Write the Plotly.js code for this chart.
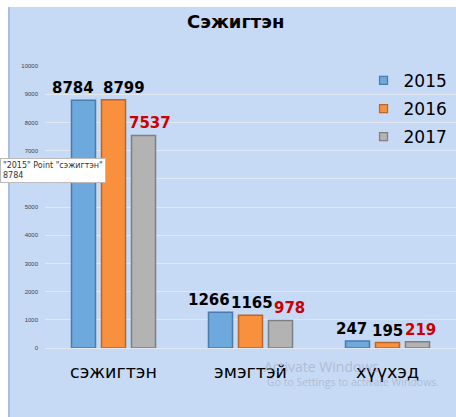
<!DOCTYPE html>
<html>
<head>
<meta charset="utf-8">
<script src="https://cdn.plot.ly/plotly-3.0.1.min.js"></script>
<style>
  html, body { margin: 0; padding: 0; background: #ffffff; }
  #wrap { position: relative; width: 456px; height: 417px; overflow: hidden; }
  #bg { position: absolute; left: 8px; top: 7px; right: 0; bottom: 0; background: #c6d9f5; border-left: 2px solid #a9bfdf; }
  #chart { position: absolute; left: 0; top: 0; width: 456px; height: 417px; }
</style>
</head>
<body>
<div id="wrap"><div id="bg"></div><div id="chart"></div></div>
<script>
const categories = ["сэжигтэн", "эмэгтэй", "хүүхэд"];
const seriesNames = ["2015", "2016", "2017"];
const values2015 = [8784, 1266, 247];
const values2016 = [8799, 1165, 195];
const values2017 = [7537, 978, 219];
const yTicks = [0, 1000, 2000, 3000, 4000, 5000, 6000, 7000, 8000, 9000, 10000];

const fills = ["#6ea9de", "#f8903e", "#b3b3b3"];
const borders = ["#4a7cab", "#b9672a", "#7f7f7f"];
const labelColors = ["#000000", "#000000", "#cc0000"];
const allValues = [values2015, values2016, values2017];
// style: horizontal offset of each series inside a group (px) and label nudges
const seriesDx = [-30, 0, 30];
const labelNudge = [[-11, -12, -6], [10, 1, 0], [6, 9, 3]];

const FONT = "DejaVu Sans, Verdana, sans-serif";

const barTraces = allValues.map((vals, i) => ({
  type: "bar",
  name: seriesNames[i],
  x: categories,
  y: vals,
  showlegend: false,
  marker: { color: fills[i], line: { color: borders[i], width: 1.5 } },
  hoverinfo: "skip"
}));

const legendTraces = seriesNames.map((nm, i) => ({
  type: "scatter",
  mode: "markers",
  name: nm,
  legendgroup: "g" + i,
  x: [null],
  y: [null],
  marker: { symbol: "square", size: 8, color: fills[i], line: { color: borders[i], width: 1.2 } },
  hoverinfo: "skip"
}));

const labelAnnotations = [];
allValues.forEach((vals, i) => {
  vals.forEach((v, j) => {
    labelAnnotations.push({
      xref: "x", yref: "y",
      x: categories[j], y: v,
      xshift: seriesDx[i] + labelNudge[i][j],
      yanchor: "bottom", yshift: 1,
      text: String(v),
      showarrow: false,
      font: { family: FONT, size: 15, color: labelColors[i], weight: "bold" }
    });
  });
});

const layout = {
  width: 456,
  height: 417,
  margin: { l: 45, r: 0, t: 66, b: 69 },
  paper_bgcolor: "rgba(0,0,0,0)",
  plot_bgcolor: "rgba(0,0,0,0)",
  barmode: "group",
  bargap: 0.343,
  bargroupgap: 0.2,
  title: {
    text: "<b>Сэжигтэн</b>",
    font: { family: FONT, size: 18, color: "#000000" },
    x: 0.517, xref: "container", xanchor: "center",
    y: 0.947, yref: "container", yanchor: "middle"
  },
  xaxis: {
    type: "category",
    showgrid: false,
    showline: false,
    zeroline: false,
    ticks: "",
    ticklabelstandoff: 11,
    tickfont: { family: FONT, size: 17.5, color: "#000000" },
    fixedrange: true
  },
  yaxis: {
    range: [0, 10000],
    tickvals: yTicks,
    ticktext: yTicks.map(String),
    showgrid: true,
    gridcolor: "#e2e8f1",
    gridwidth: 1,
    zeroline: true,
    zerolinecolor: "#e2e8f1",
    showline: false,
    ticks: "",
    ticklabelstandoff: 6,
    tickfont: { family: "Liberation Sans, Arial, sans-serif", size: 6, color: "#444444" },
    fixedrange: true
  },
  legend: {
    x: 0.775, xanchor: "left",
    y: 1.011, yanchor: "top",
    bgcolor: "rgba(0,0,0,0)",
    font: { family: FONT, size: 17, color: "#000000" },
    traceorder: "grouped",
    tracegroupgap: 3,
    itemwidth: 30
  },
  annotations: labelAnnotations.concat([
    {
      xref: "paper", yref: "paper",
      x: -0.1095, xanchor: "left",
      y: 0.674, yanchor: "top",
      text: "\"2015\" Point \"сэжигтэн\"<br>8784",
      align: "left",
      showarrow: false,
      font: { family: FONT, size: 8, color: "#333333" },
      bgcolor: "#ffffff",
      bordercolor: "#bbbbbb",
      borderwidth: 1,
      borderpad: 2
    },
    {
      xref: "paper", yref: "paper",
      x: 0.528, xanchor: "left",
      y: -0.067, yanchor: "middle",
      text: "Activate Windows",
      showarrow: false,
      font: { family: "Open Sans, sans-serif", size: 14, color: "rgba(150,160,178,0.5)" }
    },
    {
      xref: "paper", yref: "paper",
      x: 0.535, xanchor: "left",
      y: -0.12, yanchor: "middle",
      text: "Go to Settings to activate Windows.",
      showarrow: false,
      font: { family: "Open Sans, sans-serif", size: 10.5, color: "rgba(150,160,178,0.5)" }
    }
  ])
};

Plotly.newPlot("chart", barTraces.concat(legendTraces), layout, { displayModeBar: false, staticPlot: true });
</script>
</body>
</html>
